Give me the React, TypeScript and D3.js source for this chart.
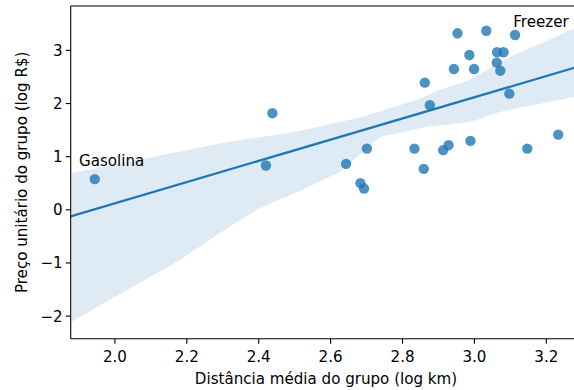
import React from "react";
import * as d3 from "d3";

const xValues = [1.944, 2.420, 2.438, 2.643, 2.701, 2.683, 2.693, 2.833, 2.859, 2.862, 2.876, 2.913, 2.928, 2.989, 2.943, 2.953, 2.986, 2.999, 3.033, 3.063, 3.081, 3.062, 3.072, 3.097, 3.113, 3.147, 3.233];
const yValues = [0.577, 0.833, 1.818, 0.865, 1.152, 0.502, 0.400, 1.152, 0.771, 2.393, 1.968, 1.122, 1.216, 1.297, 2.650, 3.321, 2.914, 2.650, 3.370, 2.964, 2.964, 2.769, 2.618, 2.186, 3.289, 1.152, 1.415];
// confidence band (bootstrap)
const bandUpperX = [1.880, 2.320, 2.505, 2.691, 2.839, 2.904, 2.987, 3.090, 3.164, 3.277];
const bandUpperY = [0.690, 1.284, 1.472, 1.754, 2.068, 2.256, 2.444, 2.851, 3.070, 3.415];
const bandLowerX = [1.880, 2.181, 2.320, 2.403, 2.515, 2.626, 2.737, 2.867, 2.987, 3.071, 3.277];
const bandLowerY = [-2.100, -0.940, -0.314, 0.032, 0.357, 0.714, 1.372, 1.560, 1.654, 1.842, 2.124];
const annotationLabels = ["Gasolina", "Freezer"];
const annotationX = [1.900, 3.108];
const annotationY = [0.83, 3.445];
const xTicks = [2.0, 2.2, 2.4, 2.6, 2.8, 3.0, 3.2];
const yTicks = [-2, -1, 0, 1, 2, 3];
const xLabel = "Distância média do grupo (log km)";
const yLabel = "Preço unitário do grupo (log R$)";

const W = 574, H = 390;
const L = 70.7, R = 581.2, T = 6, B = 338.7;
const BLUE = "#1f77b4";
const FONT = "DejaVu Sans";
const FS = 15.1;

function interp(xs: number[], ys: number[], v: number) {
  for (let i = 0; i < xs.length - 1; i++) {
    if (v >= xs[i] && v <= xs[i + 1]) {
      const t = (v - xs[i]) / (xs[i + 1] - xs[i]);
      return ys[i] + t * (ys[i + 1] - ys[i]);
    }
  }
  return v < xs[0] ? ys[0] : ys[ys.length - 1];
}

export default function App() {
  const x0 = 1.877, x1 = 3.297;
  const x = d3.scaleLinear().domain([x0, x1]).range([L, R]);
  const y = d3.scaleLinear().domain([-2.425, 3.835]).range([B, T]);

  // OLS regression line from the data
  const n = xValues.length;
  const mx = d3.mean(xValues)!;
  const my = d3.mean(yValues)!;
  let sxx = 0, sxy = 0;
  for (let i = 0; i < n; i++) {
    sxx += (xValues[i] - mx) ** 2;
    sxy += (xValues[i] - mx) * (yValues[i] - my);
  }
  const b = sxy / sxx;
  const a = my - b * mx;
  const line = d3.line<number>().x((v) => x(v)).y((v) => y(a + b * v))([x0, x1])!;

  const grid = d3.range(0, 61).map((i) => 1.880 + (i / 60) * (3.277 - 1.880));
  const bandPath = d3
    .area<number>()
    .curve(d3.curveMonotoneX)
    .x((v) => x(v))
    .y0((v) => y(interp(bandLowerX, bandLowerY, v)))
    .y1((v) => y(interp(bandUpperX, bandUpperY, v)))(grid)!;

  return (
    <svg width={W} height={H} style={{ position: "absolute", left: 0, top: 0, background: "#fff" }} fontFamily={FONT}>
      <defs>
        <clipPath id="plot">
          <rect x={L} y={T} width={R - L} height={B - T} />
        </clipPath>
      </defs>
      <rect x={0} y={0} width={W} height={H} fill="#fff" />
      <g clipPath="url(#plot)">
        <path d={bandPath} fill={BLUE} fillOpacity={0.15} />
        <path d={line} fill="none" stroke={BLUE} strokeWidth={2.3} />
        {xValues.map((xv, i) => (
          <circle key={i} cx={x(xv)} cy={y(yValues[i])} r={5.2} fill={BLUE} fillOpacity={0.8} />
        ))}
      </g>
      {annotationLabels.map((t, i) => (
        <text key={t} x={x(annotationX[i])} y={y(annotationY[i])} fontSize={FS} fill="#000">{t}</text>
      ))}
      <line x1={L} x2={L} y1={T} y2={B} stroke="#000" strokeWidth={1.1} />
      <line x1={L} x2={R} y1={B} y2={B} stroke="#000" strokeWidth={1.1} />
      <line x1={L} x2={R} y1={T} y2={T} stroke="#000" strokeWidth={1.1} />
      <line x1={R} x2={R} y1={T} y2={B} stroke="#000" strokeWidth={1.1} />
      {xTicks.map((t) => (
        <g key={t} transform={`translate(${x(t)},${B})`}>
          <line y1={0} y2={5} stroke="#000" strokeWidth={1.1} />
          <text y={23.5} textAnchor="middle" fontSize={FS} fill="#000">{t.toFixed(1)}</text>
        </g>
      ))}
      {yTicks.map((t) => (
        <g key={t} transform={`translate(${L},${y(t)})`}>
          <line x1={0} x2={-5} stroke="#000" strokeWidth={1.1} />
          <text x={-8} dy="0.36em" textAnchor="end" fontSize={FS} fill="#000">{t < 0 ? "\u2212" + Math.abs(t) : String(t)}</text>
        </g>
      ))}
      <text x={326} y={384} textAnchor="middle" fontSize={FS} fill="#000">{xLabel}</text>
      <text transform={`translate(27,${(T + B) / 2}) rotate(-90)`} textAnchor="middle" fontSize={FS} fill="#000">{yLabel}</text>
    </svg>
  );
}
